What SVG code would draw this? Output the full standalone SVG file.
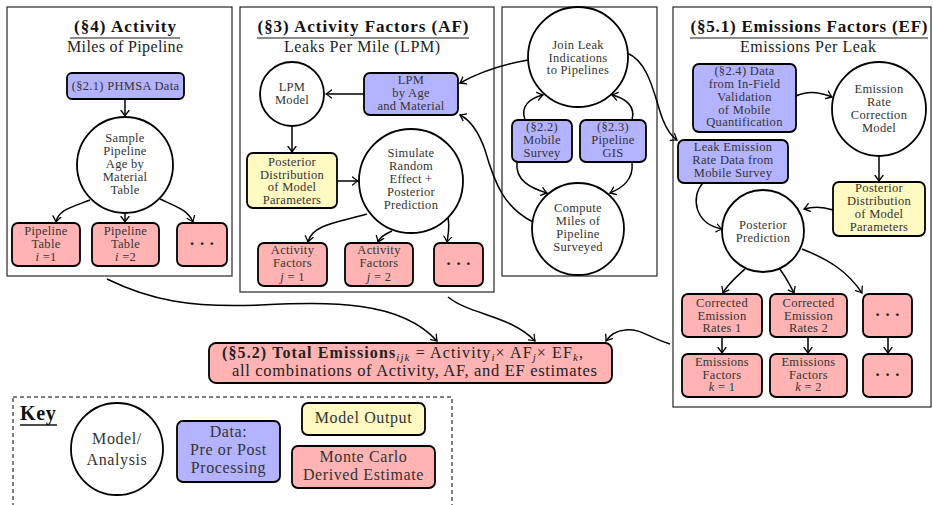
<svg xmlns="http://www.w3.org/2000/svg" width="933" height="505" viewBox="0 0 933 505">
<defs>
<marker id="ah" markerUnits="userSpaceOnUse" markerWidth="12" markerHeight="12" viewBox="-6 -6 12 12" refX="0" refY="0" orient="auto">
<path d="M -5.5,-4 Q -1.5,-0.8 0,0 Q -1.5,0.8 -5.5,4" fill="none" stroke="#000" stroke-width="1.3" stroke-linecap="round"/>
</marker>
<style>
text{font-family:"Liberation Serif","DejaVu Serif",serif;fill:#333;text-anchor:middle}
.t{font-size:12.5px;letter-spacing:0.3px}
.ttl{font-size:17px;font-weight:bold;fill:#111}
.sub{font-size:16px;fill:#222}
.k{font-size:16px;letter-spacing:0.6px}
.tot{font-size:16px;fill:#222}
.sb{font-size:11px;font-style:italic}
.panel{fill:none;stroke:#111;stroke-width:1.1}
.ul{stroke:#666;stroke-width:1.6}
.circ{fill:#fff;stroke:#000;stroke-width:1.8}
.blue{fill:#b3b3ff;stroke:#000;stroke-width:1.8}
.red{fill:#ffb3b3;stroke:#000;stroke-width:1.8}
.yel{fill:#fff9c2;stroke:#000;stroke-width:1.8}
.dots{font-size:17px;font-weight:bold;fill:#222}
.c path,.c line{fill:none;stroke:#000;stroke-width:1.5;marker-end:url(#ah)}
</style>
</defs>
<rect width="933" height="505" fill="#fff"/>

<!-- Panels -->
<g id="panel-activity">
<rect class="panel" x="7" y="7" width="225" height="269"/>
<text class="ttl" x="125" y="32" textLength="102" lengthAdjust="spacing">(§4) Activity</text>
<line class="ul" x1="70" y1="38" x2="180" y2="38"/>
<text class="sub" x="125" y="52" textLength="116" lengthAdjust="spacing">Miles of Pipeline</text>
</g>
<g id="panel-af">
<rect class="panel" x="240" y="7" width="254" height="285"/>
<text class="ttl" x="363" y="32" textLength="211" lengthAdjust="spacing">(§3) Activity Factors (AF)</text>
<line class="ul" x1="257" y1="38" x2="469" y2="38"/>
<text class="sub" x="362" y="52" textLength="156" lengthAdjust="spacing">Leaks Per Mile (LPM)</text>
</g>
<g id="panel-mid">
<rect class="panel" x="502" y="7" width="155" height="269"/>
</g>
<g id="panel-ef">
<rect class="panel" x="673" y="7" width="258" height="400"/>
<text class="ttl" x="809" y="32" textLength="237" lengthAdjust="spacing">(§5.1) Emissions Factors (EF)</text>
<line class="ul" x1="690" y1="38" x2="928" y2="38"/>
<text class="sub" x="808" y="52" textLength="136" lengthAdjust="spacing">Emissions Per Leak</text>
</g>

<!-- Activity nodes -->
<g id="phmsa"><rect class="blue" x="67" y="73" width="117" height="26" rx="5"/><text class="t" x="125.5" y="90">(§2.1) PHMSA Data</text></g>
<g id="sample"><circle class="circ" cx="125" cy="165" r="48"/>
<text class="t" x="125" y="142">Sample</text><text class="t" x="125" y="155">Pipeline</text><text class="t" x="125" y="168">Age by</text><text class="t" x="125" y="181">Material</text><text class="t" x="125" y="194">Table</text></g>
<g id="pt1"><rect class="red" x="12" y="223" width="68" height="43" rx="6"/><text class="t" x="46" y="235">Pipeline</text><text class="t" x="46" y="248">Table</text><text class="t" x="46" y="261"><tspan font-style="italic">i</tspan> =1</text></g>
<g id="pt2"><rect class="red" x="92" y="223" width="67" height="43" rx="6"/><text class="t" x="125.5" y="235">Pipeline</text><text class="t" x="125.5" y="248">Table</text><text class="t" x="125.5" y="261"><tspan font-style="italic">i</tspan> =2</text></g>
<g id="pt3"><rect class="red" x="177" y="223" width="50" height="43" rx="6"/><text class="dots" x="202" y="249">· · ·</text></g>

<!-- AF nodes -->
<g id="lpm-model"><circle class="circ" cx="292" cy="94" r="32"/><text class="t" x="292" y="91">LPM</text><text class="t" x="292" y="104">Model</text></g>
<g id="lpm-data"><rect class="blue" x="364" y="73" width="94" height="42" rx="6"/><text class="t" x="411" y="84">LPM</text><text class="t" x="411" y="97">by Age</text><text class="t" x="411" y="110">and Material</text></g>
<g id="af-post"><rect class="yel" x="247" y="153" width="90" height="55" rx="6"/><text class="t" x="292" y="166">Posterior</text><text class="t" x="292" y="178.5">Distribution</text><text class="t" x="292" y="191">of Model</text><text class="t" x="292" y="203.5">Parameters</text></g>
<g id="simulate"><circle class="circ" cx="411" cy="181" r="52"/><text class="t" x="411" y="157">Simulate</text><text class="t" x="411" y="170">Random</text><text class="t" x="411" y="183">Effect +</text><text class="t" x="411" y="196">Posterior</text><text class="t" x="411" y="209">Prediction</text></g>
<g id="af1"><rect class="red" x="258" y="243" width="69" height="43" rx="6"/><text class="t" x="292.5" y="254">Activity</text><text class="t" x="292.5" y="267">Factors</text><text class="t" x="292.5" y="281"><tspan font-style="italic">j</tspan> = 1</text></g>
<g id="af2"><rect class="red" x="345" y="243" width="68" height="43" rx="6"/><text class="t" x="379" y="254">Activity</text><text class="t" x="379" y="267">Factors</text><text class="t" x="379" y="281"><tspan font-style="italic">j</tspan> = 2</text></g>
<g id="af3"><rect class="red" x="434" y="243" width="49" height="43" rx="6"/><text class="dots" x="458.5" y="269">· · ·</text></g>

<!-- Middle nodes -->
<g id="join"><circle class="circ" cx="578" cy="57" r="50"/><text class="t" x="578" y="49">Join Leak</text><text class="t" x="578" y="61.5">Indications</text><text class="t" x="578" y="74">to Pipelines</text></g>
<g id="mobile"><rect class="blue" x="512" y="120" width="60" height="42" rx="6"/><text class="t" x="542" y="131">(§2.2)</text><text class="t" x="542" y="144">Mobile</text><text class="t" x="542" y="157">Survey</text></g>
<g id="gis"><rect class="blue" x="580" y="120" width="66" height="42" rx="6"/><text class="t" x="613" y="131">(§2.3)</text><text class="t" x="613" y="144">Pipeline</text><text class="t" x="613" y="157">GIS</text></g>
<g id="compute"><circle class="circ" cx="578" cy="229" r="46"/><text class="t" x="578" y="212">Compute</text><text class="t" x="578" y="225">Miles of</text><text class="t" x="578" y="238">Pipeline</text><text class="t" x="578" y="251">Surveyed</text></g>

<!-- EF nodes -->
<g id="infield"><rect class="blue" x="693" y="64" width="103" height="68" rx="6"/><text class="t" x="744.5" y="75">(§2.4) Data</text><text class="t" x="744.5" y="88">from In-Field</text><text class="t" x="744.5" y="101">Validation</text><text class="t" x="744.5" y="113.5">of Mobile</text><text class="t" x="744.5" y="126">Quantification</text></g>
<g id="erc"><circle class="circ" cx="879" cy="109" r="47"/><text class="t" x="879" y="93">Emission</text><text class="t" x="879" y="106">Rate</text><text class="t" x="879" y="119">Correction</text><text class="t" x="879" y="132">Model</text></g>
<g id="leakrate"><rect class="blue" x="678" y="140" width="110" height="43" rx="6"/><text class="t" x="733" y="151">Leak Emission</text><text class="t" x="733" y="164">Rate Data from</text><text class="t" x="733" y="177">Mobile Survey</text></g>
<g id="ef-post"><rect class="yel" x="833" y="182" width="92" height="54" rx="6"/><text class="t" x="879" y="192">Posterior</text><text class="t" x="879" y="205">Distribution</text><text class="t" x="879" y="218">of Model</text><text class="t" x="879" y="231">Parameters</text></g>
<g id="pp"><circle class="circ" cx="763" cy="231" r="41"/><text class="t" x="763" y="229">Posterior</text><text class="t" x="763" y="242">Prediction</text></g>
<g id="cer1"><rect class="red" x="682" y="294" width="80" height="43" rx="6"/><text class="t" x="722" y="307">Corrected</text><text class="t" x="722" y="319.5">Emission</text><text class="t" x="722" y="332">Rates 1</text></g>
<g id="cer2"><rect class="red" x="770" y="294" width="77" height="43" rx="6"/><text class="t" x="808.5" y="307">Corrected</text><text class="t" x="808.5" y="319.5">Emission</text><text class="t" x="808.5" y="332">Rates 2</text></g>
<g id="cer3"><rect class="red" x="863" y="294" width="49" height="43" rx="6"/><text class="dots" x="887.5" y="320">· · ·</text></g>
<g id="ef1"><rect class="red" x="682" y="354" width="80" height="43" rx="6"/><text class="t" x="722" y="366">Emissions</text><text class="t" x="722" y="378.5">Factors</text><text class="t" x="722" y="391"><tspan font-style="italic">k</tspan> = 1</text></g>
<g id="ef2"><rect class="red" x="770" y="354" width="77" height="43" rx="6"/><text class="t" x="808.5" y="366">Emissions</text><text class="t" x="808.5" y="378.5">Factors</text><text class="t" x="808.5" y="391"><tspan font-style="italic">k</tspan> = 2</text></g>
<g id="ef3"><rect class="red" x="863" y="354" width="49" height="43" rx="6"/><text class="dots" x="887.5" y="380">· · ·</text></g>

<!-- Total -->
<g id="total"><rect class="red" x="209" y="343" width="403" height="40" rx="7"/>
<text class="tot" x="222" y="358" style="text-anchor:start" textLength="361" lengthAdjust="spacing"><tspan font-weight="bold">(§5.2) Total Emissions</tspan><tspan class="sb" dy="3">ijk</tspan><tspan dy="-3"> = Activity</tspan><tspan class="sb" dy="3">i</tspan><tspan dy="-3">× AF</tspan><tspan class="sb" dy="3">j</tspan><tspan dy="-3">× EF</tspan><tspan class="sb" dy="3">k</tspan><tspan dy="-3">,</tspan></text>
<text class="tot" x="414.5" y="376" style="font-size:16.5px" textLength="365" lengthAdjust="spacing">all combinations of Activity, AF, and EF estimates</text></g>

<!-- Key -->
<g id="key">
<rect x="13" y="397" width="439" height="120" fill="none" stroke="#000" stroke-width="1" stroke-dasharray="4 3"/>
<text x="20" y="420" style="font-size:20px;font-weight:bold;fill:#111;text-anchor:start;letter-spacing:0.6px">Key</text>
<line x1="20" y1="425" x2="57" y2="425" stroke="#111" stroke-width="1.3"/>
</g>
<g id="key-model"><circle class="circ" cx="117" cy="449" r="46"/><text class="k" x="117" y="444">Model/</text><text class="k" x="117" y="465">Analysis</text></g>
<g id="key-data"><rect class="blue" x="177" y="421" width="103" height="61" rx="6"/><text class="k" x="228.5" y="437">Data:</text><text class="k" x="228.5" y="455">Pre or Post</text><text class="k" x="228.5" y="473">Processing</text></g>
<g id="key-output"><rect class="yel" x="302" y="403" width="123" height="32" rx="6"/><text class="k" x="363.5" y="423">Model Output</text></g>
<g id="key-mc"><rect class="red" x="292" y="446" width="143" height="42" rx="6"/><text class="k" x="363.5" y="462">Monte Carlo</text><text class="k" x="363.5" y="480">Derived Estimate</text></g>

<!-- Connectors -->
<g id="connectors" class="c">
<line x1="125" y1="99" x2="125" y2="116"/>
<path d="M 90 200 C 72 207, 58 210, 56 222"/>
<line x1="125" y1="213" x2="125" y2="222"/>
<path d="M 160 199 C 175 206, 188 210, 193 222"/>
<line x1="364" y1="94" x2="326" y2="94"/>
<line x1="292" y1="126" x2="292" y2="152"/>
<line x1="337" y1="181" x2="358" y2="181"/>
<path d="M 367 214 C 340 222, 312 224, 308 242"/>
<path d="M 392 231 C 385 234, 380 237, 378 242"/>
<path d="M 448 218 C 450 228, 448 235, 447 242"/>
<path d="M 525 120 C 520 106, 530 98, 543 95"/>
<path d="M 632 120 C 636 106, 625 98, 612 95"/>
<path d="M 517 162 C 515 180, 530 188, 547 193"/>
<path d="M 632 162 C 634 180, 622 188, 610 193"/>
<path d="M 528 60 C 500 65, 480 72, 460 83"/>
<path d="M 533 222 C 505 208, 495 185, 485 150 C 478 130, 470 120, 460 115"/>
<path d="M 627 53 C 650 62, 655 100, 663 120 C 667 130, 671 136, 677 140"/>
<path d="M 796 96 C 808 90, 820 92, 832 97"/>
<line x1="879" y1="156" x2="879" y2="181"/>
<path d="M 833 210 Q 818 205, 804 209"/>
<path d="M 703 183 C 690 197, 695 224, 722 229"/>
<path d="M 745 269 C 735 278, 727 285, 723 293"/>
<path d="M 779 268 C 786 277, 790 285, 794 293"/>
<path d="M 802 249 C 830 260, 848 272, 862 293"/>
<line x1="722" y1="337" x2="722" y2="353"/>
<line x1="808" y1="337" x2="808" y2="353"/>
<line x1="888" y1="337" x2="888" y2="353"/>
<path d="M 107 279 C 150 300, 190 308, 260 305 C 330 302, 400 300, 437 341"/>
<path d="M 448 297 C 470 315, 510 315, 535 341"/>
<path d="M 670 344 C 650 338, 640 328, 625 330 C 615 331, 610 335, 606 341"/>
</g>
</svg>
